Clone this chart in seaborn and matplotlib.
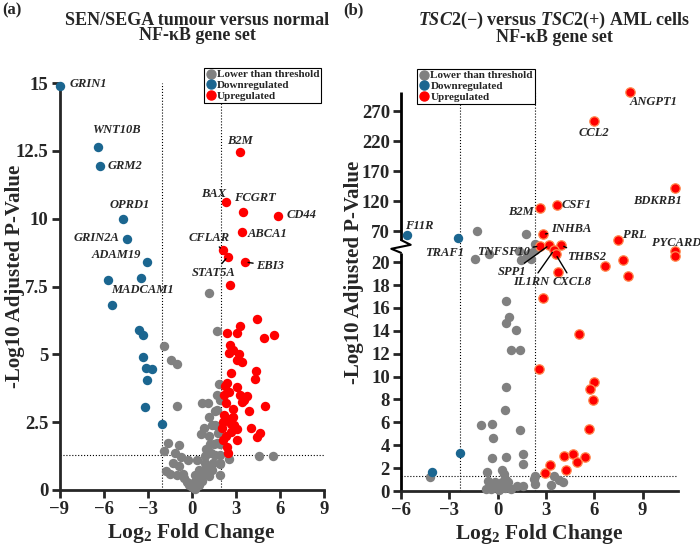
"""Volcano plots: NF-kB gene set, SEN/SEGA (a) and TSC2 AML cells (b)."""
import numpy as np
import pandas as pd
import matplotlib
matplotlib.use("Agg")
import matplotlib.pyplot as plt
from matplotlib.lines import Line2D
import seaborn as sns

# ---------------- panel (a) data ----------------
a_down_x = [-9.0, -6.4, -6.25, -4.65, -4.4, -3.05, -5.7, -3.45, -5.45, -3.6, -3.3, -3.35,
            -3.1, -2.7, -3.05, -3.15, -2.05]
a_down_y = [14.9, 12.65, 11.95, 10.0, 9.25, 8.4, 7.75, 7.8, 6.8, 5.9, 5.7, 4.9,
            4.5, 4.45, 4.05, 3.05, 2.45]
a_down_gene = ["GRIN1", "WNT10B", "GRM2", "OPRD1", "GRIN2A", "ADAM19", "", "", "", "", "", "",
               "", "", "", "", ""]

a_up_x = [3.25, 2.3, 3.5, 5.9, 3.45, 2.1, 2.45, 3.65, 2.6, 4.45, 3.3, 3.1, 2.4, 4.9, 5.6,
          2.6, 2.8, 2.55, 3.2, 3.05, 3.45, 4.4, 4.3, 2.4, 2.25, 3.1, 2.55, 2.2, 3.75, 3.55,
          3.4, 3.9, 2.8, 5.0, 2.2, 2.5, 2.8, 2.15, 2.65, 3.05, 4.0, 2.05, 2.65, 4.65, 4.45,
          2.15, 3.05, 2.4, 2.5, 2.3, 2.9, 3.3, 2.35, 2.7]
a_up_y = [12.45, 10.6, 10.25, 10.1, 9.5, 8.85, 8.6, 8.4, 7.55, 6.3, 6.05, 5.8, 5.8, 5.6, 5.7,
          5.35, 5.15, 5.05, 5.0, 4.8, 4.7, 4.4, 4.1, 3.95, 3.85, 3.8, 3.6, 3.5, 3.45, 3.3,
          3.25, 2.9, 3.0, 3.1, 2.75, 2.6, 2.7, 2.5, 2.45, 2.25, 2.3, 2.3, 2.15, 2.1, 1.95,
          1.85, 1.85, 1.6, 1.35, 2.0, 2.4, 3.5, 3.2, 4.3]
a_up_gene = ["B2M", "BAX", "FCGRT", "CD44", "ABCA1", "CFLAR", "STAT5A", "EBI3"] + [""] * 46

a_gray_x = [1.2, 1.7, -1.9, -1.4, -1.0, -1.0, 0.7, 1.1, 1.7, 1.9, 1.2, 1.7, 0.8, 1.4, 0.65,
            1.15, 1.25, 1.5, 1.7, 1.95, -1.6, -0.85, -1.9, -1.15, -0.75, -0.25, 0.35, 0.9,
            1.3, 1.95, 1.9, -1.25, -0.85, -1.75, -1.5, -1.0, -0.55, -0.35, 0.0, 0.1, 0.35,
            0.55, 0.9, 1.0, 1.35, 1.45, 0.9, 1.9, 1.9, 4.6, 5.55, 2.55, 0.2, -0.2, 0.5, 0.7,
            1.2, 1.6, 1.8, 1.55, 1.6, 1.85, 1.0, 0.5, -0.6, 0.25]
a_gray_y = [7.25, 5.85, 5.3, 4.8, 4.65, 3.1, 3.2, 3.2, 3.5, 3.3, 2.7, 2.95, 2.3, 2.4, 2.05,
            2.0, 1.7, 1.7, 1.75, 1.7, 1.75, 1.65, 1.45, 1.35, 1.2, 1.1, 1.1, 1.25,
            1.35, 1.3, 0.95, 1.0, 0.9, 0.7, 0.6, 0.55, 0.45, 0.3, 0.1, 0.25, 0.35,
            0.5, 0.6, 0.8, 0.75, 1.0, 1.0, 0.55, 1.0, 1.25, 1.25, 1.15, 0.05, 0.2, 0.2, 0.35,
            0.5, 1.3, 2.1, 2.4, 2.9, 3.9, 1.5, 0.75, 0.6, 0.55]

# ---------------- panel (b) data ----------------
b_down_x = [-5.65, -2.45, -2.35, -4.1]
b_down_y = [63, 58, 3.3, 1.65]
b_down_gene = ["F11R", "TRAF1", "", ""]

b_up_x = [8.25, 6.0, 11.0, 2.65, 3.7, 2.8, 7.45, 11.0, 11.0, 7.8, 6.65, 8.1, 2.6, 3.2,
          3.95, 3.5, 3.6, 3.75, 2.8, 5.05, 2.55, 6.0, 5.75, 5.9, 5.7, 4.15, 4.7, 5.4, 4.95,
          3.25, 4.25, 2.95]
b_up_y = [302, 253, 142, 108, 114, 64.5, 54.5, 21.0, 20.5, 20.2, 19.65, 18.75, 45, 46.5,
          46.5, 21.05, 20.7, 19.1, 16.85, 13.75, 10.7, 9.5, 8.95, 7.95, 5.4, 3.1, 3.25, 2.95,
          2.5, 2.25, 1.8, 1.55]
b_up_gene = ["ANGPT1", "CCL2", "BDKRB1", "B2M", "CSF1", "INHBA", "PRL", "PYCARD", "", "", "",
             "", "TNFSF10", "SPP1", "THBS2", "IL1RN", "CXCL8", "", "", "", "", "", "", "", "",
             "", "", "", "", "", "", ""]

b_gray_x = [-1.3, 1.75, 2.3, 1.45, 1.8, 2.1, 2.0, -1.4, -0.55, 1.3, 2.3, 0.55, 0.7, 0.55,
            1.15, 0.85, 1.4, 0.5, 0.45, -1.05, -0.35, -0.3, 1.4, 1.55, 0.55, -0.35, 1.55,
            -0.65, 0.25, 0.4, 0.5, -0.6, -0.15, 0.25, 0.65, 1.2, 1.55, -0.7, -0.4, -0.1, 0.2,
            0.45, 0.0, 2.3, 2.25, 2.3, 3.3, 3.5, 3.8, 4.05, -4.2, 0.1, -0.2, 0.8]
b_gray_y = [69.5, 64.5, 49, 20.2, 20.5, 20.25, 20.8, 20.25, 20.7, 21.0, 21.1, 16.6, 15.2,
            14.65, 14.05, 12.35, 12.35, 9.1, 7.1, 5.75, 5.85, 4.65, 5.35, 3.25, 3.0, 2.9, 2.4,
            1.7, 1.85, 1.5, 1.0, 0.85, 0.8, 0.8, 0.8, 0.4, 0.4, 0.15, 0.2, 0.35, 0.25,
            0.3, 0.5, 0.65, 1.05, 1.3, 0.5, 1.3, 1.0, 0.8, 1.25, 0.1, 0.5, 0.15]

GROUPS = ["Lower than threshold", "Downregulated", "Upregulated"]
GRAY, BLUE, RED = "#808080", "#1b6690", "#ff0000"


def make_frame(gray, down, up):
    parts = []
    for grp, (xs, ys, genes) in zip(GROUPS, [gray, down, up]):
        parts.append(pd.DataFrame({"lfc": xs, "nlp": ys, "gene": genes, "group": grp}))
    return pd.concat(parts, ignore_index=True)


df_a = make_frame((a_gray_x, a_gray_y, [""] * len(a_gray_x)),
                  (a_down_x, a_down_y, a_down_gene), (a_up_x, a_up_y, a_up_gene))
df_b = make_frame((b_gray_x, b_gray_y, [""] * len(b_gray_x)),
                  (b_down_x, b_down_y, b_down_gene), (b_up_x, b_up_y, b_up_gene))

# label layout: gene -> (text x, text y, ha, leader?)
lab_a = {
    "GRIN1": (-8.3, 14.95, "left", False), "WNT10B": (-5.1, 13.25, "center", False),
    "GRM2": (-5.75, 11.95, "left", False), "OPRD1": (-4.2, 10.5, "center", False),
    "GRIN2A": (-4.95, 9.3, "right", False), "ADAM19": (-3.45, 8.65, "right", False),
    "B2M": (3.25, 12.85, "center", False), "BAX": (2.35, 10.9, "right", False),
    "FCGRT": (2.9, 10.75, "left", False), "CD44": (6.45, 10.15, "left", False),
    "ABCA1": (3.8, 9.45, "left", False), "CFLAR": (1.15, 9.3, "center", True),
    "STAT5A": (1.5, 8.0, "center", True), "EBI3": (4.4, 8.27, "left", True),
}
lab_b = {
    "ANGPT1": (9.7, 285, "center", False), "CCL2": (6.0, 233, "center", False),
    "BDKRB1": (9.9, 120, "center", False), "B2M": (2.25, 102, "right", False),
    "CSF1": (4.0, 113, "left", False), "F11R": (-5.75, 78, "left", False),
    "TRAF1": (-3.3, 20.8, "center", False), "INHBA": (3.3, 73, "left", True),
    "PRL": (7.8, 63, "left", False), "PYCARD": (11.1, 51, "center", False),
    "TNFSF10": (2.0, 20.9, "right", True), "SPP1": (1.75, 19.1, "right", True),
    "IL1RN": (2.1, 18.25, "center", True), "CXCL8": (4.65, 18.25, "center", True),
    "THBS2": (4.3, 20.45, "left", True),
}
MISC_A = [("MADCAM1", -5.45, 7.37)]  # label drawn without a single anchor point
GENE_FS = 9

# ---------------- style ----------------
sns.set_style("ticks")
plt.rcParams["font.family"] = ["Liberation Serif", "DejaVu Serif"]
plt.rcParams["font.weight"] = "bold"
plt.rcParams["axes.labelweight"] = "bold"
plt.rcParams["mathtext.fontset"] = "custom"
plt.rcParams["mathtext.rm"] = "Liberation Serif:bold"
plt.rcParams["mathtext.it"] = "Liberation Serif:bold:italic"
plt.rcParams["mathtext.bf"] = "Liberation Serif:bold"

fig = plt.figure(figsize=(7, 5.47), dpi=100)
ax_a = fig.add_axes([59.5 / 700, 57 / 547, 264.5 / 700, 407 / 547])
ax_b = fig.add_axes([401 / 700, 56 / 547, 277 / 700, 399 / 547])

# broken y scale for panel b
B1, B2, F2 = 21.3, 44.0, 21.35
K = 0.6 / 11.45


def fwd(y):
    y = np.asarray(y, dtype=float)
    return np.where(y <= B1, y,
                    np.where(y <= B2, B1 + (y - B1) * (F2 - B1) / (B2 - B1), F2 + (y - B2) * K))


def inv(f):
    f = np.asarray(f, dtype=float)
    return np.where(f <= B1, f,
                    np.where(f <= F2, B1 + (f - B1) * (B2 - B1) / (F2 - B1), B2 + (f - F2) / K))


ax_b.set_yscale("function", functions=(fwd, inv))


def draw_points(ax, df, red_edge=None):
    styles = [(GROUPS[0], GRAY, None), (GROUPS[1], BLUE, None), (GROUPS[2], RED, red_edge)]
    for z, (grp, col, edge) in enumerate(styles):
        sub = df[df["group"] == grp]
        kw = dict(linewidth=0) if edge is None else dict(edgecolor=edge, linewidth=0.9)
        sns.scatterplot(data=sub, x="lfc", y="nlp", color=col, s=46, ax=ax,
                        clip_on=False, zorder=3 + z, legend=False, **kw)


def draw_labels(ax, df, layout):
    for _, row in df[df["gene"] != ""].iterrows():
        tx, ty, ha, leader = layout[row["gene"]]
        if leader:
            ax.annotate(row["gene"], xy=(row["lfc"], row["nlp"]), xytext=(tx, ty),
                        ha=ha, va="center", fontsize=GENE_FS, style="italic", weight="bold",
                        arrowprops=dict(arrowstyle="-", lw=1, color="k",
                                        shrinkA=0, shrinkB=2), zorder=8)
        else:
            ax.text(tx, ty, row["gene"], ha=ha, va="center", fontsize=GENE_FS,
                    style="italic", weight="bold", zorder=8)


for ax, df, lay, edge in [(ax_a, df_a, lab_a, None), (ax_b, df_b, lab_b, "#ff8a50")]:
    draw_points(ax, df, edge)
    draw_labels(ax, df, lay)
    sns.despine(ax=ax)
    for side in ["left", "bottom"]:
        ax.spines[side].set_linewidth(2)
    ax.tick_params(axis="both", direction="out", length=5.5, width=2, labelsize=13.5, pad=2.5)
    ax.minorticks_off()
    ax.set_xlabel("Log$_2$ Fold Change", fontsize=15.5, labelpad=2)
    ax.set_ylabel("-Log10 Adjusted P-Value", fontsize=15)
    for t in ax.get_xticklabels() + ax.get_yticklabels():
        t.set_fontweight("bold")

# y label anchor is the right-hand edge of the rotated text
ax_a.yaxis.set_label_coords(-0.130, 0.526)
ax_b.yaxis.set_label_coords(-0.134, 0.549)

for t in MISC_A:
    ax_a.text(t[1], t[2], t[0], ha="left", va="center", fontsize=GENE_FS,
              style="italic", weight="bold", zorder=8)

# panel a axes
ax_a.set_xlim(-9, 9)
ax_a.set_ylim(0, 15)
ax_a.set_xticks([-9, -6, -3, 0, 3, 6, 9])
ax_a.set_yticks([0, 2.5, 5, 7.5, 10, 12.5, 15])
ax_a.set_yticklabels(["0", "2.5", "5", "7.5", "10", "12.5", "15"])
for v in (-2, 2):
    ax_a.axvline(v, ls=":", lw=0.8, color="k", zorder=1)
ax_a.axhline(1.3, ls=":", lw=0.8, color="k", zorder=1)

# panel b axes
ax_b.set_xlim(-6, 11.2)
ax_b.set_ylim(0, 302)
ax_b.set_xticks([-6, -3, 0, 3, 6, 9])
b_ticks = list(range(0, 21, 2)) + [70, 120, 170, 220, 270]
ax_b.set_yticks(b_ticks)
ax_b.set_yticklabels([str(v) for v in b_ticks])
ax_b.minorticks_off()
for v in (-np.log2(5), np.log2(5)):
    ax_b.axvline(v, ls=":", lw=0.8, color="k", zorder=1)
ax_b.axhline(1.3, ls=":", lw=0.8, color="k", zorder=1)
ax_b.spines["left"].set_visible(False)
tr = ax_b.transAxes
ax_b.plot([0, 0], [0, 0.597], color="k", lw=2, transform=tr, clip_on=False,
          solid_capstyle="butt")
ax_b.plot([0, 0], [0.629, 1.0], color="k", lw=2, transform=tr, clip_on=False,
          solid_capstyle="butt")
ax_b.plot([0, 0.035, -0.035, 0], [0.629, 0.617, 0.607, 0.597], color="k", lw=1.5,
          transform=tr, clip_on=False)

# legends
handles = [Line2D([], [], marker="o", ls="", color=c, markersize=6.5)
           for c in (GRAY, BLUE, RED)]
leg_kw = dict(frameon=True, fancybox=False, framealpha=1, edgecolor="k",
              prop={"size": 8, "weight": "bold"}, borderpad=0.15, labelspacing=0.1,
              handletextpad=0.05, handlelength=1.0, borderaxespad=0,
              bbox_transform=fig.transFigure)
leg = ax_a.legend(handles, GROUPS, loc="upper right", bbox_to_anchor=(321 / 700, 1 - 68 / 547),
                  **leg_kw)
leg.get_frame().set_linewidth(0.8)
leg = ax_b.legend(handles, GROUPS, loc="upper left", bbox_to_anchor=(417 / 700, 1 - 69 / 547),
                  **leg_kw)
leg.get_frame().set_linewidth(0.8)

# titles and panel letters
title_kw = dict(ha="center", va="center", fontsize=13, weight="bold", linespacing=0.9)
fig.text(197 / 700, 1 - 28 / 547, "SEN/SEGA tumour versus normal\nNF-κB gene set", **title_kw)
fig.text(554 / 700, 1 - 28 / 547,
         "$\\mathit{TSC2}$(−) versus $\\mathit{TSC2}$(+) AML cells\nNF-κB gene set",
         **title_kw)
fig.text(2 / 700, 1 - 2 / 547, "(a)", ha="left", va="top", fontsize=12, weight="bold")
fig.text(343 / 700, 1 - 2 / 547, "(b)", ha="left", va="top", fontsize=12, weight="bold")

fig.savefig("out.png", dpi=100)
